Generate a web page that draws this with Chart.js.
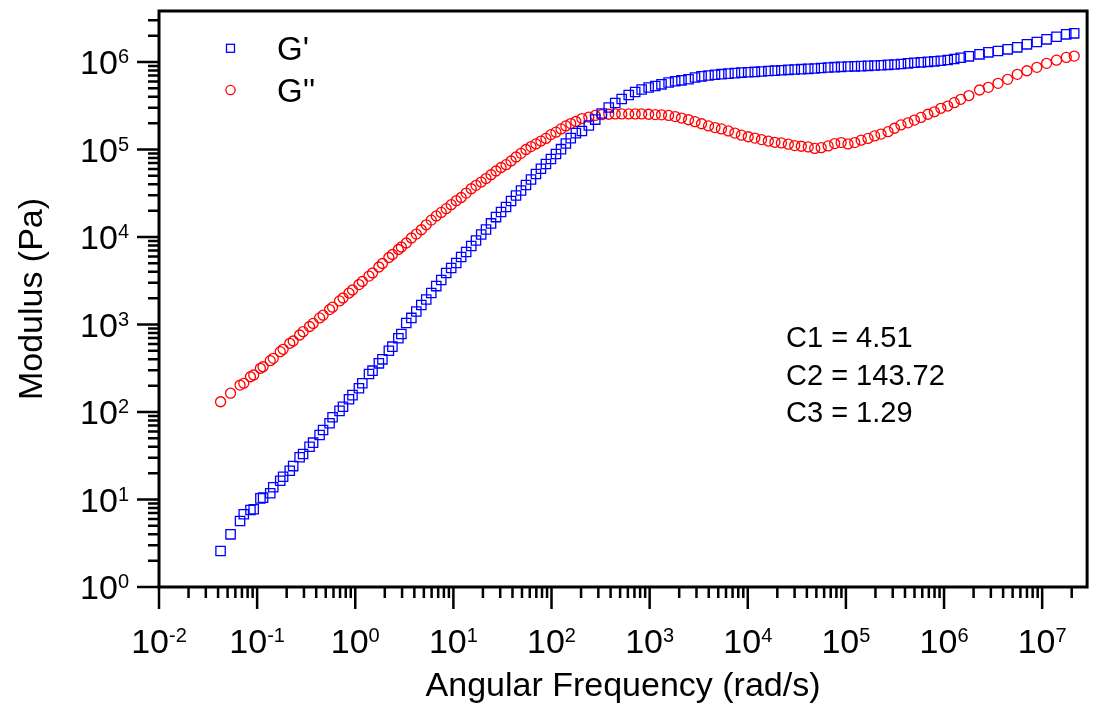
<!DOCTYPE html>
<html>
<head>
<meta charset="utf-8">
<title>Modulus vs Angular Frequency</title>
<script src="https://cdn.jsdelivr.net/npm/chart.js"></script>
<style>
  html, body { margin: 0; padding: 0; background: #fff; }
  #wrap { width: 1095px; height: 707px; position: relative; }
</style>
</head>
<body>
<div id="wrap"><canvas id="chart"></canvas></div>
<script>
// angular frequency (rad/s), shared by both moduli
const omega = [
  4.24e-2, 5.36e-2, 6.70e-2, 7.31e-2, 8.55e-2, 9.23e-2, 0.108, 0.115, 0.136, 0.146, 0.172, 0.184,
  0.215, 0.233, 0.271, 0.294, 0.342, 0.372, 0.433, 0.470, 0.547, 0.587, 0.691, 0.750,
  0.863, 0.937, 1.09, 1.18, 1.38, 1.50, 1.74, 1.89, 2.20, 2.39, 2.75, 2.95,
  3.31, 3.73, 4.19, 4.71, 5.29, 5.95, 6.69, 7.52, 8.45, 9.50, 10.7, 12.0,
  13.5, 15.2, 17.0, 19.2, 21.5, 24.2, 27.2, 30.6, 34.4, 38.7, 43.5, 48.9,
  54.9, 61.8, 69.4, 78.0, 87.7, 98.6, 111, 125, 140, 157, 177,
  204, 240, 279, 325, 383, 446, 519, 612, 712, 829, 977, 1140,
  1320, 1560, 1820, 2110, 2490, 2900, 3380, 3980, 4630, 5390, 6350, 7390,
  8610, 1.01e4, 1.18e4, 1.38e4, 1.62e4, 1.89e4, 2.20e4, 2.59e4, 3.01e4, 3.51e4, 4.13e4,
  4.81e4, 5.60e4, 6.59e4, 7.68e4, 8.94e4, 1.05e5, 1.23e5, 1.43e5, 1.68e5, 1.96e5, 2.28e5, 2.69e5,
  3.13e5, 3.64e5, 4.29e5, 4.99e5, 5.81e5, 6.85e5, 7.97e5, 9.28e5, 1.09e6, 1.27e6, 1.48e6, 1.79e6,
  2.30e6, 2.83e6, 3.55e6, 4.45e6, 5.58e6, 6.99e6, 8.83e6, 1.11e7, 1.40e7, 1.76e7, 2.12e7
];

// storage modulus G' (Pa)
const gStorage = [
  2.58, 4.00, 5.68, 6.78, 7.59, 7.73, 10.3, 10.5, 11.8, 13.8, 16.4, 18.2,
  21.3, 24.1, 30.4, 33.1, 40.1, 44.6, 54.6, 62.3, 74.3, 87.0, 103, 115,
  140, 156, 187, 213, 272, 297, 360, 400, 502, 558, 696, 779,
  1040, 1190, 1410, 1670, 1930, 2290, 2750, 3230, 3880, 4420, 5050, 5910,
  6740, 7890, 9120, 1.07e4, 1.22e4, 1.43e4, 1.69e4, 1.93e4, 2.20e4, 2.58e4, 2.98e4, 3.40e4,
  3.93e4, 4.54e4, 5.25e4, 6.02e4, 6.83e4, 7.79e4, 8.88e4, 1.01e5, 1.17e5, 1.35e5, 1.54e5,
  1.63e5, 1.88e5, 2.20e5, 2.58e5, 3.02e5, 3.40e5, 3.78e5, 4.20e5, 4.54e5, 4.85e5, 5.11e5, 5.32e5,
  5.56e5, 5.83e5, 6.03e5, 6.18e5, 6.36e5, 6.65e5, 6.86e5, 7.01e5, 7.16e5, 7.27e5, 7.37e5, 7.47e5,
  7.57e5, 7.65e5, 7.71e5, 7.79e5, 7.89e5, 7.97e5, 8.06e5, 8.14e5, 8.21e5, 8.29e5, 8.36e5,
  8.43e5, 8.54e5, 8.65e5, 8.74e5, 8.81e5, 8.88e5, 8.93e5, 8.98e5, 9.05e5, 9.12e5, 9.19e5, 9.29e5,
  9.36e5, 9.49e5, 9.66e5, 9.82e5, 9.92e5, 1.005e6, 1.019e6, 1.035e6, 1.054e6, 1.082e6, 1.120e6, 1.162e6,
  1.225e6, 1.291e6, 1.336e6, 1.397e6, 1.472e6, 1.594e6, 1.693e6, 1.817e6, 1.945e6, 2.073e6, 2.128e6
];

// loss modulus G'' (Pa)
const gLoss = [
  131, 164, 203, 213, 253, 265, 316, 329, 386, 411, 489, 521,
  610, 648, 759, 828, 949, 1030, 1190, 1280, 1480, 1580, 1860, 2010,
  2290, 2480, 2860, 3100, 3580, 3880, 4540, 4980, 5830, 6310, 7200, 7690,
  8540, 9740, 1.08e4, 1.21e4, 1.38e4, 1.56e4, 1.74e4, 1.91e4, 2.11e4, 2.34e4, 2.60e4, 2.83e4,
  3.18e4, 3.56e4, 3.90e4, 4.25e4, 4.66e4, 5.15e4, 5.68e4, 6.23e4, 6.71e4, 7.39e4, 8.21e4, 9.05e4,
  1.00e5, 1.08e5, 1.16e5, 1.25e5, 1.34e5, 1.48e5, 1.58e5, 1.72e5, 1.86e5, 1.98e5, 2.09e5,
  2.26e5, 2.35e5, 2.45e5, 2.50e5, 2.53e5, 2.55e5, 2.55e5, 2.55e5, 2.55e5, 2.55e5, 2.53e5, 2.51e5,
  2.49e5, 2.45e5, 2.38e5, 2.29e5, 2.19e5, 2.08e5, 1.97e5, 1.86e5, 1.78e5, 1.72e5, 1.63e5, 1.54e5,
  1.46e5, 1.40e5, 1.35e5, 1.30e5, 1.25e5, 1.21e5, 1.19e5, 1.15e5, 1.11e5, 1.09e5, 1.07e5,
  1.03e5, 1.05e5, 1.10e5, 1.17e5, 1.20e5, 1.16e5, 1.20e5, 1.28e5, 1.34e5, 1.43e5, 1.50e5, 1.60e5,
  1.75e5, 1.91e5, 2.02e5, 2.17e5, 2.33e5, 2.53e5, 2.70e5, 2.96e5, 3.14e5, 3.43e5, 3.75e5, 4.14e5,
  4.79e5, 5.14e5, 5.71e5, 6.34e5, 7.23e5, 7.95e5, 8.70e5, 9.66e5, 1.05e6, 1.13e6, 1.17e6
];

const seriesNames = ["G'", "G''"];
const xTickExps = ['-2', '-1', '0', '1', '2', '3', '4', '5', '6', '7'];
const yTickExps = ['0', '1', '2', '3', '4', '5', '6'];
const fitLines = ['C1 = 4.51', 'C2 = 143.72', 'C3 = 1.29'];

const FONT = '"Liberation Sans", Arial, sans-serif';

// "10" with a raised exponent
function drawPow(ctx, exp, x, baseY, align) {
  ctx.font = '34px ' + FONT;
  const wBase = ctx.measureText('10').width;
  ctx.font = '20px ' + FONT;
  const wExp = ctx.measureText(exp).width;
  const total = wBase + wExp;
  const start = align === 'right' ? x - total : x - total / 2;
  ctx.textAlign = 'left';
  ctx.textBaseline = 'alphabetic';
  ctx.font = '34px ' + FONT;
  ctx.fillText('10', start, baseY);
  ctx.font = '20px ' + FONT;
  ctx.fillText(exp, start + wBase, baseY - 11);
}

const frame = {
  id: 'frame',
  afterDraw(chart) {
    const { ctx, chartArea: a, scales: { x, y } } = chart;
    ctx.save();
    ctx.strokeStyle = '#000';
    ctx.fillStyle = '#000';
    ctx.lineWidth = 3;
    ctx.strokeRect(a.left, a.top, a.right - a.left, a.bottom - a.top);

    ctx.lineWidth = 2.5;
    ctx.beginPath();
    // x ticks, outward below the frame
    xTickExps.forEach((e) => {
      const p = Math.pow(10, Number(e));
      const px = x.getPixelForValue(p);
      ctx.moveTo(px, a.bottom); ctx.lineTo(px, a.bottom + 22);
      for (let m = 2; m <= 9; m++) {
        const v = m * p;
        if (v > x.max) break;
        const mx = x.getPixelForValue(v);
        ctx.moveTo(mx, a.bottom); ctx.lineTo(mx, a.bottom + 11);
      }
    });
    // y ticks, outward left of the frame
    yTickExps.forEach((e) => {
      const p = Math.pow(10, Number(e));
      const py = y.getPixelForValue(p);
      ctx.moveTo(a.left, py); ctx.lineTo(a.left - 22, py);
      for (let m = 2; m <= 9; m++) {
        const v = m * p;
        if (v > y.max) break;
        const my = y.getPixelForValue(v);
        ctx.moveTo(a.left, my); ctx.lineTo(a.left - 11, my);
      }
    });
    ctx.stroke();

    xTickExps.forEach((e) => {
      drawPow(ctx, e, x.getPixelForValue(Math.pow(10, Number(e))), 653, 'center');
    });
    yTickExps.forEach((e) => {
      drawPow(ctx, e, 129, y.getPixelForValue(Math.pow(10, Number(e))) + 12, 'right');
    });

    // axis titles
    ctx.font = '34px ' + FONT;
    ctx.textAlign = 'center';
    ctx.textBaseline = 'alphabetic';
    ctx.fillText('Angular Frequency (rad/s)', (a.left + a.right) / 2, 696);
    ctx.save();
    ctx.translate(42, (a.top + a.bottom) / 2);
    ctx.rotate(-Math.PI / 2);
    ctx.fillText('Modulus (Pa)', 0, 0);
    ctx.restore();

    // legend
    ctx.lineWidth = 1.3;
    ctx.strokeStyle = '#0000ff';
    ctx.strokeRect(226.5, 44.3, 8, 8);
    ctx.strokeStyle = '#ff0000';
    ctx.beginPath();
    ctx.arc(230.5, 90, 4.6, 0, Math.PI * 2);
    ctx.stroke();
    ctx.font = '33px ' + FONT;
    ctx.textAlign = 'left';
    ctx.fillText(seriesNames[0], 277, 60);
    ctx.fillText(seriesNames[1], 277, 101.5);

    // fit parameters
    ctx.font = '29px ' + FONT;
    [347, 385, 422].forEach((by, i) => ctx.fillText(fitLines[i], 786, by));
    ctx.restore();
  }
};

new Chart(document.getElementById('chart'), {
  type: 'scatter',
  data: {
    datasets: [
      {
        label: seriesNames[0],
        data: omega.map((w, i) => ({ x: w, y: gStorage[i] })),
        pointStyle: 'rect',
        pointRadius: 6.6,
        borderColor: '#0000ff',
        backgroundColor: 'rgba(0,0,0,0)',
        borderWidth: 1.3,
      },
      {
        label: seriesNames[1],
        data: omega.map((w, i) => ({ x: w, y: gLoss[i] })),
        pointStyle: 'circle',
        pointRadius: 5,
        borderColor: '#ff0000',
        backgroundColor: 'rgba(0,0,0,0)',
        borderWidth: 1.3,
      },
    ],
  },
  options: {
    responsive: true,
    maintainAspectRatio: false,
    animation: false,
    devicePixelRatio: 1,
    layout: { padding: { left: 159, right: 5, top: 11, bottom: 120 } },
    scales: {
      x: { type: 'logarithmic', min: 0.01, max: 2.87e7, display: false },
      y: { type: 'logarithmic', min: 1, max: 3.83e6, display: false },
    },
    plugins: { legend: { display: false }, tooltip: { enabled: false } },
  },
  plugins: [frame],
});
</script>
</body>
</html>
